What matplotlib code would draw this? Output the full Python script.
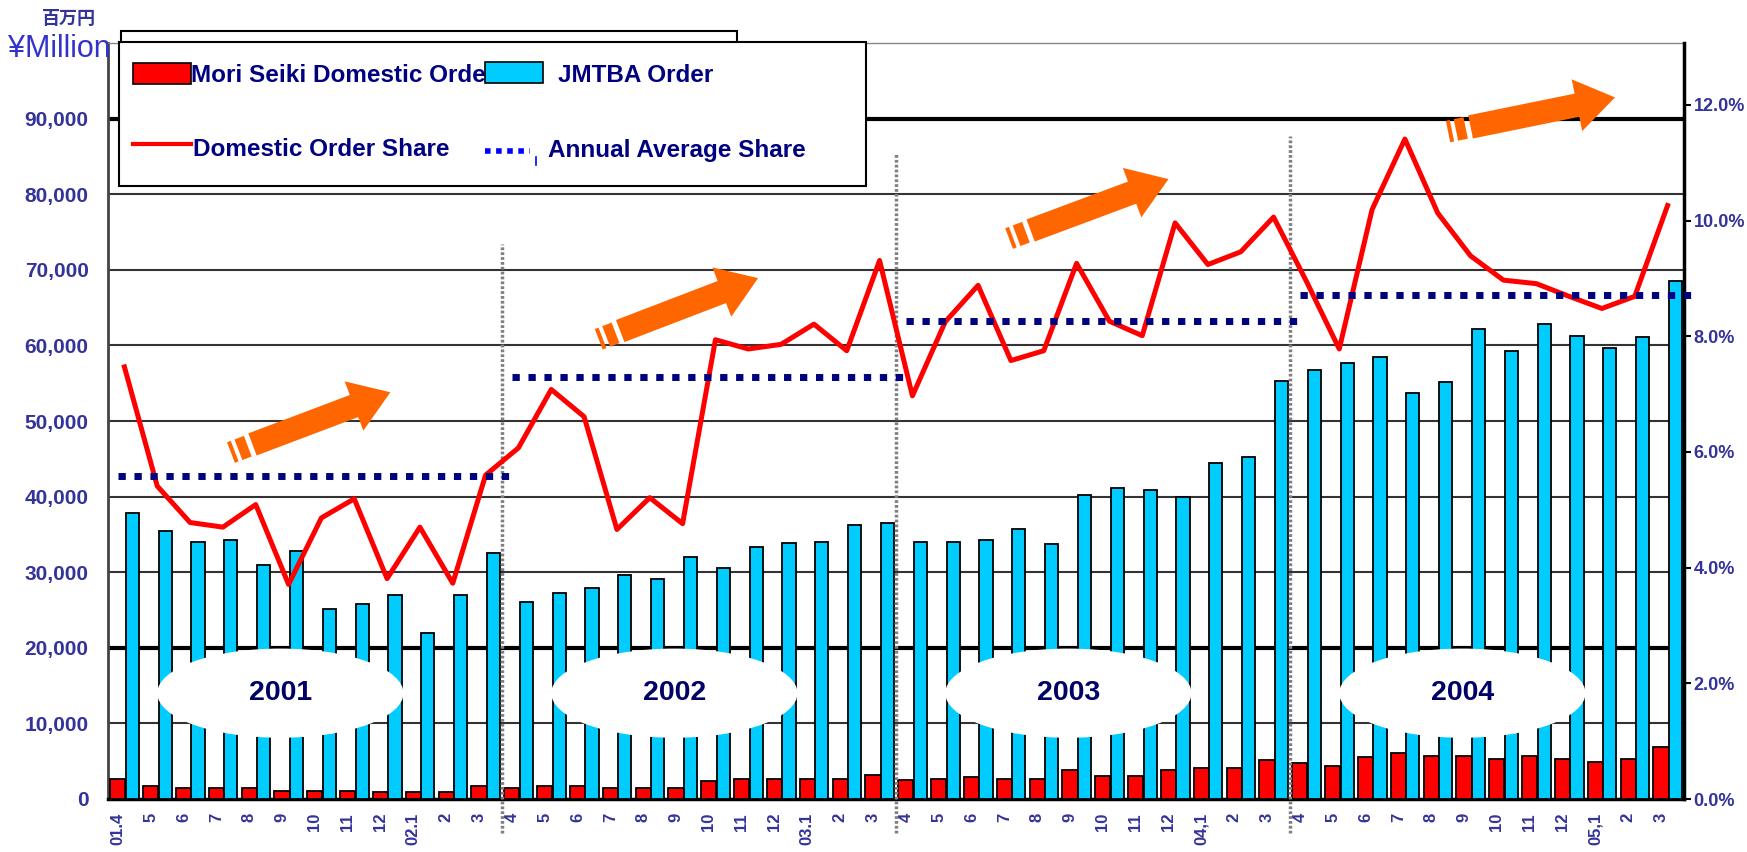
import numpy as np
import matplotlib
matplotlib.use("Agg")
import matplotlib.pyplot as plt
from matplotlib.patches import Ellipse, Rectangle
from matplotlib.lines import Line2D
from matplotlib.transforms import IdentityTransform

# ---- data ----
month_labels = ["01.4", "5", "6", "7", "8", "9", "10", "11", "12", "02.1", "2", "3",
                "4", "5", "6", "7", "8", "9", "10", "11", "12", "03.1", "2", "3",
                "4", "5", "6", "7", "8", "9", "10", "11", "12", "04,1", "2", "3",
                "4", "5", "6", "7", "8", "9", "10", "11", "12", "05,1", "2", "3"]

mori_orders = [2700, 1700, 1400, 1400, 1400, 1100, 1100, 1100, 900, 900, 900, 1700,
               1400, 1700, 1700, 1400, 1400, 1400, 2400, 2700, 2700, 2700, 2700, 3200,
               2500, 2700, 2900, 2600, 2600, 3800, 3100, 3100, 3800, 4100, 4100, 5200,
               4800, 4300, 5600, 6100, 5700, 5700, 5300, 5700, 5300, 4900, 5300, 6900]

jmtba_orders = [37800, 35400, 34000, 34300, 31000, 32800, 25100, 25800, 27000, 22000, 27000, 32600,
                26100, 27300, 27900, 29600, 29100, 32000, 30500, 33300, 33800, 34000, 36300, 36500,
                34000, 34000, 34300, 35700, 33700, 40200, 41200, 40900, 40000, 44400, 45200, 55300,
                56700, 57700, 58400, 53700, 55100, 62200, 59300, 62800, 61300, 59700, 61100, 68500]

domestic_share = [7.47, 5.41, 4.78, 4.70, 5.09, 3.71, 4.86, 5.19, 3.81, 4.70, 3.73, 5.60,
                  6.07, 7.08, 6.61, 4.66, 5.21, 4.76, 7.94, 7.78, 7.86, 8.21, 7.75, 9.31,
                  6.97, 8.25, 8.88, 7.58, 7.75, 9.26, 8.26, 8.01, 9.96, 9.24, 9.46, 10.06,
                  8.95, 7.78, 10.19, 11.41, 10.13, 9.39, 8.97, 8.91, 8.69, 8.48, 8.69, 10.26]

years = ["2001", "2002", "2003", "2004"]
annual_avg_share = [5.58, 7.29, 8.27, 8.72]

# decoration: year-divider tops (left-axis units) and trend arrows (tail, tip)
divider_tops = [73400, 85300, 87700]
arrows = [((3.9, 46900), (8.1, 53800)),
          ((15.1, 61900), (19.3, 68900)),
          ((27.6, 75200), (31.8, 82000)),
          ((41.0, 88900), (45.4, 92800))]

W, H = 1747, 852
LEFT_MAX = 100000
RIGHT_MAX = 13.07
TICK_COLOR = "#333399"
NAVY = "#000080"
ORANGE = "#FF6600"

plt.rcParams["font.family"] = ["Liberation Sans", "DejaVu Sans"]
plt.rcParams["font.weight"] = "bold"


def fx(px):
    return px / W


def fy(py):
    return 1 - py / H


def to_pct(v):
    return v / LEFT_MAX * RIGHT_MAX


fig = plt.figure(figsize=(W / 100, H / 100), dpi=100)
ax = fig.add_axes([fx(108), fy(799), fx(1684) - fx(108), fy(43) - fy(799)])
ax2 = ax.twinx()

x = np.arange(len(month_labels))

# gridlines
for v in range(10000, 100000, 10000):
    thick = v in (20000, 90000)
    ax.axhline(v, color="black" if thick else "#333333", lw=3 if thick else 1.5, zorder=1)

ax.bar(x - 0.2, mori_orders, width=0.46, color="#FF0000", edgecolor="black", linewidth=1.3, zorder=3)
ax.bar(x + 0.24, jmtba_orders, width=0.40, color="#00CCFF", edgecolor="black", linewidth=1.3, zorder=3)

ax.set_xlim(-0.5, len(x) - 0.5)
ax.set_ylim(0, LEFT_MAX)
ax.set_yticks(np.arange(0, 90001, 10000))
ax.set_yticklabels(["0"] + [f"{v:,}" for v in range(10000, 90001, 10000)])
ax.set_xticks(x - 0.2)
ax.set_xticklabels(month_labels, rotation=90, fontsize=12, color=TICK_COLOR)
ax.tick_params(axis="x", length=0, pad=10)
ax.tick_params(axis="y", length=0, pad=14, labelsize=15, labelcolor=TICK_COLOR)

# year ellipses
for k, yr in enumerate(years):
    cx = 12 * k + 4.75
    ax.add_patch(Ellipse((cx, 14000), 7.5, 11800, facecolor="white", edgecolor="none", zorder=4))
    ax.text(cx, 14000, yr, ha="center", va="center", fontsize=20.5, color="#000066", zorder=5)

for s in ["left", "bottom", "top", "right"]:
    ax.spines[s].set_visible(s != "right")
ax.spines["left"].set_color("#444444")
ax.spines["left"].set_linewidth(2)
ax.spines["bottom"].set_linewidth(2.5)
ax.spines["top"].set_color("#888888")
ax.spines["top"].set_linewidth(1)

# right axis: shares
ax2.set_ylim(0, RIGHT_MAX)
ax2.set_yticks(np.arange(0, 12.1, 2))
ax2.set_yticklabels([f"{v:.1f}%" for v in np.arange(0, 12.1, 2)])
ax2.tick_params(axis="y", length=5, width=1.5, pad=2, labelsize=13, labelcolor=TICK_COLOR)
for s in ["left", "bottom", "top"]:
    ax2.spines[s].set_visible(False)
ax2.spines["right"].set_linewidth(2.5)

ax2.plot(x, domestic_share, color="#FF0000", lw=3.6, zorder=6)

for k, avg in enumerate(annual_avg_share):
    ax2.plot([12 * k - 0.2, 12 * k + 11.75], [avg, avg], color=NAVY, lw=5,
             linestyle=(0, (1.05, 1.25)), dash_capstyle="butt",
             clip_on=False, zorder=7)

for k, top in enumerate(divider_tops):
    b = 12 * (k + 1) - 0.5
    ax2.plot([b, b], [to_pct(-4500), to_pct(top)], color="#808080", lw=2.5,
             linestyle=(0, (0.8, 0.6)), clip_on=False, zorder=5)

# trend arrows with speed stripes
for tail, tip in arrows:
    t = (tail[0], to_pct(tail[1]))
    h = (tip[0], to_pct(tip[1]))
    ax2.annotate("", xy=h, xytext=t,
                 arrowprops=dict(arrowstyle="simple,head_length=1.4,head_width=1.9,tail_width=0.85",
                                 mutation_scale=20, fc=ORANGE, ec="none", shrinkA=0, shrinkB=0),
                 zorder=8)
    p0 = ax2.transData.transform(t)
    p1 = ax2.transData.transform(h)
    u = (p1 - p0) / np.hypot(*(p1 - p0))
    n = np.array([-u[1], u[0]])
    for dist, width in [(10, 10), (21, 4)]:
        c = p0 - u * dist
        a, bb = c - n * 11, c + n * 11
        fig.add_artist(Line2D([a[0], bb[0]], [a[1], bb[1]], color=ORANGE, lw=width * 0.72,
                              solid_capstyle="butt", transform=IdentityTransform(), zorder=3))

# legend boxes
fig.add_artist(Rectangle((fx(121), fy(120)), fx(737) - fx(121), fy(31) - fy(120),
                         facecolor="white", edgecolor="black", lw=1.5, zorder=2))
fig.add_artist(Rectangle((fx(119), fy(186)), fx(866) - fx(119), fy(42) - fy(186),
                         facecolor="white", edgecolor="black", lw=1.5, zorder=3))
leg_font = dict(fontsize=17.5, color=NAVY, va="center", ha="left", zorder=4)
fig.text(fx(191), fy(76), "Mori Seiki Domestic Order", **leg_font)
fig.text(fx(558), fy(76), "JMTBA Order", **leg_font)
fig.text(fx(193), fy(150), "Domestic Order Share", **leg_font)
fig.text(fx(548), fy(151), "Annual Average Share", **leg_font)
fig.add_artist(Rectangle((fx(133), fy(84)), fx(191) - fx(133), fy(63) - fy(84),
                         facecolor="#FF0000", edgecolor="black", lw=1.2, zorder=5))
fig.add_artist(Rectangle((fx(485), fy(83)), fx(543) - fx(485), fy(62) - fy(83),
                         facecolor="#00CCFF", edgecolor="black", lw=1.2, zorder=5))
fig.add_artist(Line2D([fx(133), fx(191)], [fy(144), fy(144)], color="#FF0000", lw=3, zorder=5))
fig.add_artist(Line2D([fx(485), fx(530)], [fy(151), fy(151)], color="#0000FF", lw=4,
                      linestyle=(0, (1.0, 1.0)), zorder=5))
fig.add_artist(Line2D([fx(536), fx(536)], [fy(157), fy(165)], color="#0000FF", lw=1.2, zorder=5))

# axis unit labels
fig.text(fx(8), fy(49), "¥Million", fontsize=22, fontweight="normal", color="#3333CC",
         va="center", ha="left", zorder=6)
fig.text(fx(42), fy(19), "百万円", fontsize=13, color=TICK_COLOR,
         family=["Noto Sans CJK JP", "DejaVu Sans"], va="center", ha="left", zorder=6)

fig.savefig("out.png", dpi=100)
